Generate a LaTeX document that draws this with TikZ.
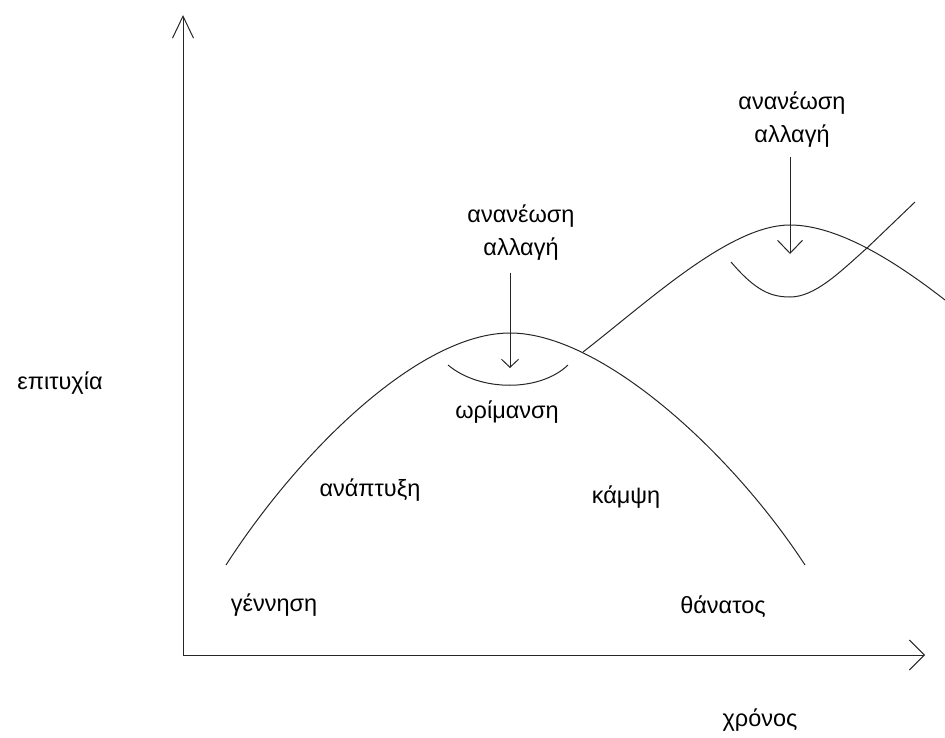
\documentclass[tikz,border=0pt]{standalone}
\usepackage{fontspec}
\setmainfont{Liberation Sans}
\usetikzlibrary{arrows.meta}
\begin{document}
\begin{tikzpicture}[x=1pt,y=-1pt,
  ln/.style={line width=1pt, draw=black!85},
  lbl/.style={inner sep=0pt, font=\fontsize{23.5}{33}\selectfont, align=center},
  axisy/.style={ln, -{Straight Barb[length=22pt,width=21pt]}},
  axisx/.style={ln, -{Straight Barb[length=15pt,width=30pt]}},
  arrA/.style={ln, -{Straight Barb[length=8pt,width=17pt]}},
  arrB/.style={ln, -{Straight Barb[length=13pt,width=25pt]}}]
\useasboundingbox (0,0) rectangle (945,738);
% axes
\coordinate (O) at (183,655);
\coordinate (Ytip) at (183,15);
\coordinate (Xtip) at (925,655);
\draw[axisy] (O) -- (Ytip);
\draw[axisx] (O) -- (Xtip);
% first life cycle curve
\coordinate (c1s) at (226,565);
\coordinate (c1p) at (510,333);
\coordinate (c1e) at (805,565);
\draw[ln] (c1s) .. controls (300,450) and (420,333) .. (c1p)
          .. controls (600,333) and (730,450) .. (c1e);
% first dip
\coordinate (d1s) at (448,365);
\coordinate (d1e) at (568,365);
\draw[ln] (d1s) .. controls (480,392) and (540,392) .. (d1e);
% second curve
\coordinate (c2s) at (583,352);
\coordinate (c2p) at (790,225);
\coordinate (c2e) at (945,300);
\draw[ln] (c2s) .. controls (650,300) and (730,225) .. (c2p)
          .. controls (840,225) and (900,265) .. (c2e);
% second dip and new growth
\coordinate (d2s) at (731,262);
\coordinate (d2b) at (790,297);
\coordinate (d2x) at (867,248);
\coordinate (d2e) at (915,202);
\draw[ln] (d2s) .. controls (755,290) and (770,297) .. (d2b)
          .. controls (815,297) and (840,272) .. (d2x) -- (d2e);
% labels
\node[lbl] (ren1) at (521,233) {ανανέωση\\αλλαγή};
\node[lbl] (ren2) at (792,120) {ανανέωση\\αλλαγή};
\node[lbl] (succ) at (60,383) {επιτυχία};
\node[lbl] (mat) at (507,412) {ωρίμανση};
\node[lbl] (grow) at (370,490) {ανάπτυξη};
\node[lbl] (decl) at (626,497) {κάμψη};
\node[lbl] (birth) at (274,605) {γέννηση};
\node[lbl] (death) at (723,607) {θάνατος};
\node[lbl] (time) at (760,720) {χρόνος};
% arrows
\coordinate (a1s) at (510,273);
\coordinate (a1e) at (510,368);
\coordinate (a2s) at (790,157);
\coordinate (a2e) at (790,254);
\draw[arrA] (a1s) -- (a1e);
\draw[arrB] (a2s) -- (a2e);
\end{tikzpicture}
\end{document}
